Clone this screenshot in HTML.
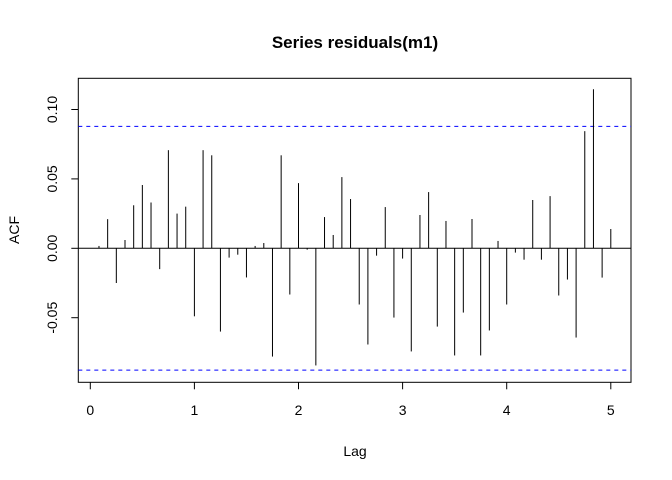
<!DOCTYPE html>
<html><head><meta charset="utf-8"><style>
body{margin:0;background:#fff}
svg{display:block;font-family:"Liberation Sans",Arial,sans-serif}
</style></head><body>
<svg id="chart" width="672" height="480" viewBox="0 0 672 480">
<rect width="672" height="480" fill="#fff"/>
<text x="355" y="48" text-anchor="middle" font-size="17" font-weight="bold">Series residuals(m1)</text>
<text x="355" y="456" text-anchor="middle" font-size="14">Lag</text>
<text transform="translate(19,230) rotate(-90)" text-anchor="middle" font-size="14">ACF</text>
<g id="marks"></g>
</svg>
<script>
const lags = [];
for (let i = 1; i <= 60; i++) lags.push(i / 12);
const acfValues = [0.0017,0.021,-0.025,0.006,0.031,0.0456,0.033,-0.015,0.0707,0.025,0.030,-0.049,
0.0707,0.067,-0.060,-0.0067,-0.0046,-0.021,0.0017,0.0038,-0.078,0.067,-0.0333,0.047,
-0.001,-0.0844,0.0225,0.0096,0.0513,0.0355,-0.0405,-0.0693,-0.0053,0.0297,-0.0499,-0.0074,
-0.0743,0.024,0.0405,-0.0564,0.0197,-0.0772,-0.0463,0.0211,-0.0772,-0.0592,0.0053,-0.0405,
-0.0031,-0.0082,0.0348,-0.0082,0.0376,-0.034,-0.0225,-0.0643,0.0844,0.1146,-0.0211,0.0139];
const ciLimit = 0.0878;
const xTicks = [0,1,2,3,4,5];
const yTicks = [-0.05,0,0.05,0.10];
const yTickLabels = ["-0.05","0.00","0.05","0.10"];

const NS = "http://www.w3.org/2000/svg";
const L = 78.3, R = 631, T = 78.3, B = 382.3;
const xs = v => 90.3 + v * 104.1;
const ys = v => 248.3 - v * 1388;
const g = document.getElementById('marks');
function mk(tag, attrs){const e=document.createElementNS(NS,tag);for(const k in attrs)e.setAttribute(k,attrs[k]);g.appendChild(e);return e;}

const box = mk('rect',{x:L,y:T,width:R-L,height:B-T,fill:'none',stroke:'#000','stroke-width':1});



const zl = mk('line',{x1:L,x2:R,y1:ys(0),y2:ys(0),stroke:'#000','stroke-width':1});



[ciLimit, -ciLimit].forEach((c, i) => {
  const l = mk('line',{x1:L,x2:R,y1:ys(c),y2:ys(c),stroke:'#0000ff','stroke-width':1,'stroke-dasharray':'4,4'});
  
  
});

lags.forEach((lag, i) => {
  const b = mk('line',{x1:xs(lag),x2:xs(lag),y1:ys(0),y2:ys(acfValues[i]),stroke:'#000','stroke-width':1});
  
  
});

xTicks.forEach(t => {
  const l = mk('line',{x1:xs(t),x2:xs(t),y1:B,y2:B+7,stroke:'#000'});
  
  
  const tx = mk('text',{x:xs(t),y:415,'text-anchor':'middle','font-size':14});
  tx.textContent = String(t);
  
  
});

yTicks.forEach((t, i) => {
  const l = mk('line',{x1:L-7,x2:L,y1:ys(t),y2:ys(t),stroke:'#000'});
  
  
  const tx = mk('text',{transform:`translate(57,${ys(t)}) rotate(-90)`,'text-anchor':'middle','font-size':14});
  tx.textContent = yTickLabels[i];
  
  
});
</script>
</body></html>
